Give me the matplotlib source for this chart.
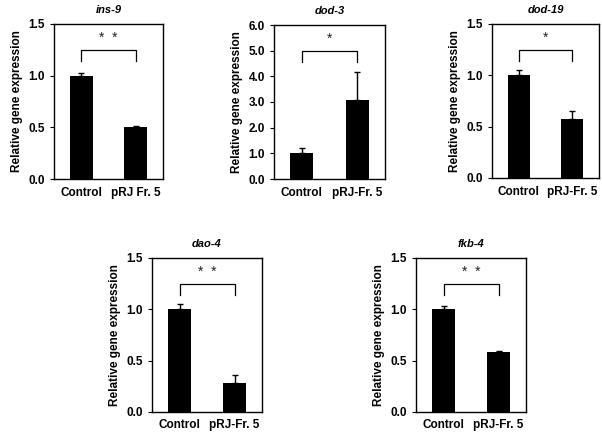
import matplotlib.pyplot as plt
import numpy as np

plt.rcParams['font.family'] = ['Liberation Sans', 'DejaVu Sans']

# dados
genes = ['ins-9', 'dod-3', 'dod-19', 'dao-4', 'fkb-4']
grupos = [['Control', 'pRJ Fr. 5'], ['Control', 'pRJ-Fr. 5'], ['Control', 'pRJ-Fr. 5'],
          ['Control', 'pRJ-Fr. 5'], ['Control', 'pRJ-Fr. 5']]
medias = [[1.0, 0.50], [1.0, 3.08], [1.0, 0.57], [1.0, 0.28], [1.0, 0.58]]
erros = [[0.03, 0.01], [0.20, 1.07], [0.05, 0.08], [0.05, 0.08], [0.03, 0.01]]
ymax = [1.5, 6.0, 1.5, 1.5, 1.5]
ystep = [0.5, 1.0, 0.5, 0.5, 0.5]
signif = ['*  *', '*', '*', '*  *', '*  *']
colchete = [1.25, 5.0, 1.25, 1.25, 1.25]

# posicoes em pixels (esq, dir, topo, base)
caixas = [(54, 163, 24, 179), (274, 385, 25, 179), (492, 599, 24, 178),
          (152, 262, 258, 412), (416, 526, 258, 412)]

W, H = 602, 434
fig = plt.figure(figsize=(W / 100, H / 100), dpi=100)

for i in range(5):
    l, r, t, b = caixas[i]
    ax = fig.add_axes([l / W, 1 - b / H, (r - l) / W, (b - t) / H])
    x = np.arange(2)
    ax.bar(x, medias[i], width=0.42, color='black', yerr=[[0, 0], erros[i]],
           error_kw=dict(ecolor='black', elinewidth=1, capsize=2.5, capthick=1))
    ax.set_xlim(-0.5, 1.5)
    ax.set_ylim(0, ymax[i])
    ticks = np.arange(0, ymax[i] + 0.001, ystep[i])
    ax.set_yticks(ticks)
    ax.set_yticklabels(['%.1f' % v for v in ticks], fontsize=8.5, fontweight='bold')
    ax.set_xticks(x)
    ax.set_xticklabels(grupos[i], fontsize=8.5, fontweight='bold')
    ax.tick_params(axis='x', length=0, pad=6 if i < 3 else 5)
    ax.tick_params(axis='y', direction='out', length=3, width=0.8)
    for s in ax.spines.values():
        s.set_linewidth(1)
    ax.set_ylabel('Relative gene expression', fontsize=8.5, fontweight='bold')
    ax.set_title(genes[i], fontsize=8, fontweight='bold', style='italic', pad=8)
    # colchete de significancia
    h = colchete[i]
    d = 0.075 * ymax[i]
    ax.plot([0, 0, 1, 1], [h - d, h, h, h - d], color='black', lw=0.9)
    ax.text(0.5, h + 0.03 * ymax[i], signif[i], ha='center', va='bottom',
            fontsize=10, color='#222222')

plt.savefig('out.png', dpi=100)
